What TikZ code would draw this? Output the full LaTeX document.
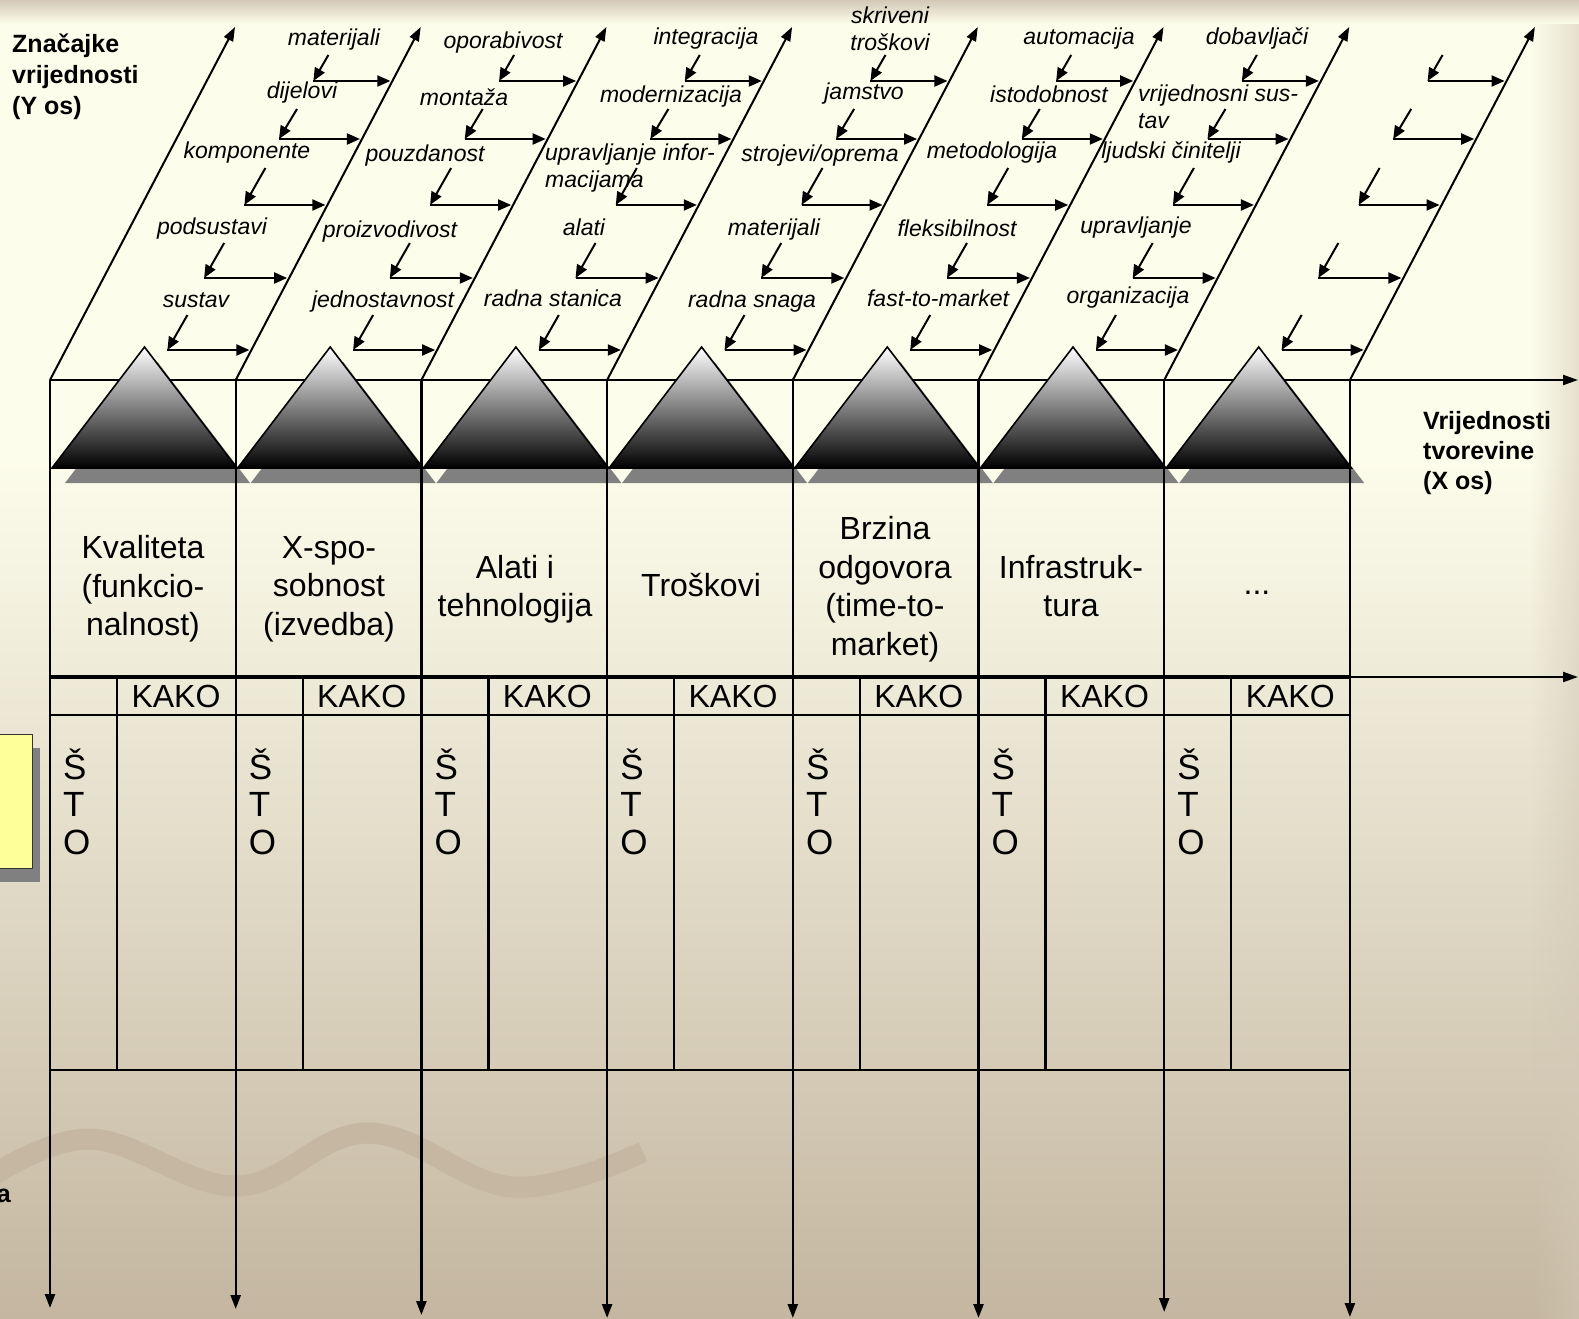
\documentclass[tikz,border=0pt]{standalone}
\usepackage{fontspec}
\setmainfont{Liberation Sans}
\usetikzlibrary{arrows.meta,fadings}
\definecolor{cream}{HTML}{FDFDEC}
\definecolor{tanbg}{HTML}{C4B6A0}
\definecolor{topband}{HTML}{D3C9B6}
\definecolor{shadowgray}{HTML}{808080}
\definecolor{noteyellow}{HTML}{FFFF99}
\definecolor{wavec}{HTML}{C5B7A1}
\tikzfading[name=fadeinright, left color=transparent!100, right color=transparent!0]
\tikzset{
  slantline/.style={line width=2pt,-{Triangle[length=14pt,width=10pt]}},
  colline/.style={line width=2.4pt,-{Triangle[length=14pt,width=10pt]}},
  axisline/.style={line width=2pt,-{Triangle[length=15pt,width=10pt]}},
  tableline/.style={line width=2.4pt},
  subline/.style={line width=2.2pt},
  smallarrow/.style={line width=2pt,-{Triangle[length=13pt,width=11pt]}},
  lbl/.style={font={\fontsize{23}{27}\selectfont\itshape},inner sep=0pt,align=center},
  hdr/.style={font={\fontsize{32}{38.5}\selectfont},inner sep=0pt,align=center},
  kakotxt/.style={font={\fontsize{32}{38}\selectfont},inner sep=0pt},
  stotxt/.style={font={\fontsize{35}{37.5}\selectfont},inner sep=0pt,align=left,anchor=west},
  axtxt/.style={font={\fontsize{25}{31}\selectfont\bfseries},inner sep=0pt,align=left,anchor=west},
  tri/.style={top color=white,bottom color=black,draw=black,line width=1.6pt,line join=miter},
  trishadow/.style={fill=shadowgray},
}
\begin{document}
\begin{tikzpicture}[x=1pt,y=-1pt]
\useasboundingbox (0,0) rectangle (1579,1319);
\clip (0,0) rectangle (1579,1319);
% background
\fill[cream] (0,0) rectangle (1579,451);
\shade[top color=cream,bottom color=tanbg] (0,450) rectangle (1579,1319);
\shade[top color=topband,bottom color=cream] (0,0) rectangle (1579,24);
\fill[topband,opacity=0.55,path fading=fadeinright] (1530,20) rectangle (1579,1319);
% wave
\draw[wavec,line width=21pt] plot[smooth,tension=0.65] coordinates {(-30,1190) (87,1139) (237,1186) (368,1133) (513,1187) (643,1152)};
% yellow note box at the left edge
\fill[shadowgray] (-10,748) rectangle (40,882);
\filldraw[fill=noteyellow,draw=black!80,line width=1pt] (-10,734) rectangle (32,868);
\node[font={\fontsize{25}{31}\selectfont\bfseries},inner sep=0pt,anchor=base east] (acut) at (11,1202) {a};
% main coordinates
\foreach \i in {0,...,7}{
  \pgfmathsetmacro{\xx}{50+185.7*\i}
  \coordinate (b\i) at (\xx,380);
  \coordinate (s\i) at (\xx+185,27);
}
% triangle shadows
\foreach \i in {0,...,6}{
  \pgfmathsetmacro{\xx}{50+185.7*\i}
  \fill[trishadow] (\xx+15,483) -- (\xx+107.5,362) -- (\xx+200,483) -- cycle;
}
% axes and columns
\coordinate (xa) at (1578,380);
\draw[axisline] (b0) -- (xa);
\foreach \i/\ty in {0/1308,1/1309,2/1315,3/1318,4/1318,5/1318,6/1312,7/1317}{
  \pgfmathsetmacro{\xx}{50+185.7*\i}
  \coordinate (e\i) at (\xx,\ty);
  \draw[colline] (b\i) -- (e\i);
  \draw[slantline] (b\i) -- (s\i);
}
\coordinate (k0) at (50,677);
\coordinate (k7) at (1350,677);
\coordinate (ka) at (1578,677);
\draw[line width=3.3pt] (k0) -- (k7);
\draw[axisline] (k7) -- (ka);
\draw[tableline] (50,715) -- (1350,715);
\draw[tableline] (50,1070) -- (1350,1070);
\foreach \i in {0,...,6}{
  \pgfmathsetmacro{\xx}{50+185.7*\i+67}
  \draw[subline] (\xx,677) -- (\xx,1070);
}
% triangles
\foreach \i in {0,...,6}{
  \pgfmathsetmacro{\xx}{50+185.7*\i}
  \shadedraw[tri] (\xx+2,468) -- (\xx+94.5,347) -- (\xx+187,468) -- cycle;
}
% bent arrows
\foreach \i in {0,...,6}{
  \pgfmathsetmacro{\xn}{50+185.7*(\i+1)}
  \foreach \r/\y/\len/\dx/\dy in {1/81/79/15/26,2/139/83/18/30,3/205/83/21/37,4/278/85/20/35,5/350/84/20/35}{
    \pgfmathsetmacro{\ex}{\xn+(380-\y)*0.524-2}
    \pgfmathsetmacro{\cx}{\ex-\len+2}
    \pgfmathsetmacro{\sx}{\cx+\dx}
    \pgfmathsetmacro{\sy}{\y-\dy}
    \coordinate (h\i-\r) at (\ex,\y);
    \coordinate (c\i-\r) at (\cx,\y);
    \coordinate (d\i-\r) at (\sx,\sy);
    \draw[smallarrow] (d\i-\r) -- (c\i-\r);
    \draw[smallarrow] (c\i-\r) -- (h\i-\r);
  }
}
% axis labels
\node[axtxt] (yos) at (12,77) {Značajke\\vrijednosti\\(Y os)};
\node[axtxt,font={\fontsize{25}{30}\selectfont\bfseries}] (xos) at (1423,453) {Vrijednosti\\tvorevine\\(X os)};
% band labels
\node[lbl] (l01) at (334,40) {materijali};
\node[lbl] (l02) at (302,93) {dijelovi};
\node[lbl] (l03) at (247,153) {komponente};
\node[lbl] (l04) at (212,229) {podsustavi};
\node[lbl] (l05) at (196,300) {sustav};
\node[lbl] (l11) at (503,43) {oporabivost};
\node[lbl] (l12) at (464,97) {montaža};
\node[lbl] (l13) at (425,156) {pouzdanost};
\node[lbl] (l14) at (390,232) {proizvodivost};
\node[lbl] (l15) at (383,302) {jednostavnost};
\node[lbl] (l21) at (706,39) {integracija};
\node[lbl] (l22) at (671,97) {modernizacija};
\node[lbl,align=left,anchor=west] (l23) at (545,168.5) {upravljanje infor-\\macijama};
\node[lbl] (l24) at (584,227) {alati};
\node[lbl] (l25) at (553,298) {radna stanica};
\node[lbl] (l31) at (890,28.5) {skriveni\\troškovi};
\node[lbl] (l32) at (864,94) {jamstvo};
\node[lbl] (l33) at (820,156) {strojevi/oprema};
\node[lbl] (l34) at (774,230) {materijali};
\node[lbl] (l35) at (752,302) {radna snaga};
\node[lbl] (l41) at (1079,39) {automacija};
\node[lbl] (l42) at (1049,94) {istodobnost};
\node[lbl] (l43) at (992,153) {metodologija};
\node[lbl] (l44) at (957,228) {fleksibilnost};
\node[lbl] (l45) at (938,298) {fast-to-market};
\node[lbl] (l51) at (1257,39) {dobavljači};
\node[lbl,align=left,anchor=west] (l52) at (1138,106.5) {vrijednosni sus-\\tav};
\node[lbl] (l53) at (1171,153) {ljudski činitelji};
\node[lbl] (l54) at (1136,228) {upravljanje};
\node[lbl] (l55) at (1128,298) {organizacija};
% column headers
\node[hdr] (hd0) at (143,589) {Kvaliteta\\(funkcio-\\nalnost)};
\node[hdr] (hd1) at (329,589) {X-spo-\\sobnost\\(izvedba)};
\node[hdr] (hd2) at (515,589) {Alati i\\tehnologija};
\node[hdr] (hd3) at (701,585) {Troškovi};
\node[hdr] (hd4) at (885,589) {Brzina\\odgovora\\(time-to-\\market)};
\node[hdr] (hd5) at (1071,586) {Infrastruk-\\tura};
\node[hdr] (hd6) at (1257,593) {...};
% KAKO and STO
\foreach \i in {0,...,6}{
  \pgfmathsetmacro{\xk}{50+185.7*\i+126}
  \pgfmathsetmacro{\xs}{50+185.7*\i+13}
  \node[kakotxt] (kako\i) at (\xk,696) {KAKO};
  \node[stotxt] (sto\i) at (\xs,801.5) {Š\\T\\O};
}
\end{tikzpicture}
\end{document}
